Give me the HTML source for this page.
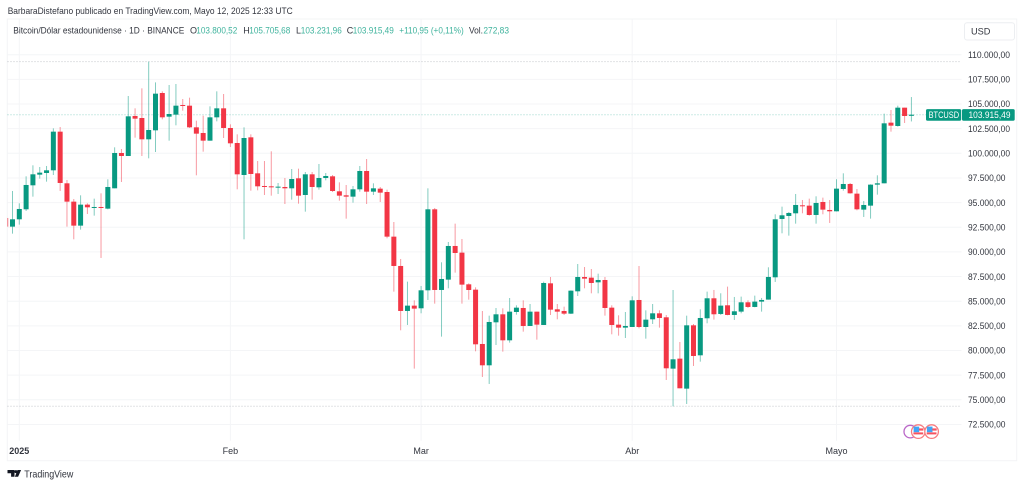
<!DOCTYPE html>
<html lang="es">
<head>
<meta charset="utf-8">
<title>BTCUSD chart</title>
<style>
html,body{margin:0;padding:0;background:#fff;width:1024px;height:486px;overflow:hidden}
svg{display:block;filter:blur(.35px)}
text{font-family:"Liberation Sans",sans-serif;fill:#33363f}
.ax{font-size:9px}
.leg{font-size:9px}
.g{fill:#3fb39d}
</style>
</head>
<body>
<svg id="chart" xmlns="http://www.w3.org/2000/svg" width="1024" height="486" viewBox="0 0 1024 486">
  <defs><clipPath id="plot-clip"><rect x="7.5" y="19" width="954" height="422"/></clipPath></defs>
  <rect x="7.3" y="19" width="1009.4" height="441.7" fill="#fff" stroke="#f3f4f6" stroke-width="1"/>
  <g id="grid"></g>
  <g id="refs"></g>
  <g id="candles" clip-path="url(#plot-clip)"></g>
  <g id="price-axis"></g>
  <g id="time-axis"></g>

  <text x="7.7" y="14.2" font-size="9.5" textLength="285" lengthAdjust="spacingAndGlyphs">BarbaraDistefano publicado en TradingView.com, Mayo 12, 2025 12:33 UTC</text>

  <g>
    <text class="leg" x="13.3" y="33.5" textLength="171" lengthAdjust="spacingAndGlyphs">Bitcoin/Dólar estadounidense · 1D · BINANCE</text>
    <text class="leg" x="190" y="33.5">O</text>
    <text class="leg g" x="196.3" y="33.5" textLength="41" lengthAdjust="spacingAndGlyphs">103.800,52</text>
    <text class="leg" x="243.3" y="33.5">H</text>
    <text class="leg g" x="249.3" y="33.5" textLength="41" lengthAdjust="spacingAndGlyphs">105.705,68</text>
    <text class="leg" x="296" y="33.5">L</text>
    <text class="leg g" x="300.8" y="33.5" textLength="41" lengthAdjust="spacingAndGlyphs">103.231,96</text>
    <text class="leg" x="346.7" y="33.5">C</text>
    <text class="leg g" x="352.8" y="33.5" textLength="41" lengthAdjust="spacingAndGlyphs">103.915,49</text>
    <text class="leg g" x="399.3" y="33.5" textLength="64.4" lengthAdjust="spacingAndGlyphs">+110,95 (+0,11%)</text>
    <text class="leg" x="469" y="33.5" textLength="14" lengthAdjust="spacingAndGlyphs">Vol.</text>
    <text class="leg g" x="483.4" y="33.5" textLength="25.6" lengthAdjust="spacingAndGlyphs">272,83</text>
  </g>

  <g>
    <rect x="964.5" y="22.7" width="50" height="17.3" rx="2.5" fill="#fff" stroke="#eceef1"/>
    <text x="971" y="34.6" font-size="9.2">USD</text>
  </g>

  <g id="price-tag"></g>

  <g>
    <circle cx="910.3" cy="431.6" r="6.3" fill="#fff" stroke="#ba68c8" stroke-width="1.3"/>
    <g>
      <circle cx="918.3" cy="431.6" r="6.8" fill="#fff" stroke="#f77c80" stroke-width="1.3"/>
      <rect x="913.6" y="426.6" width="5.6" height="5.6" fill="#42a5f5"/>
      <rect x="919" y="428.4" width="4.4" height="2.2" fill="#f7525f"/>
      <rect x="913.4" y="432.4" width="9.8" height="2" fill="#f7525f"/>
    </g>
    <g>
      <circle cx="931.6" cy="431.6" r="6.8" fill="#fff" stroke="#f77c80" stroke-width="1.3"/>
      <rect x="926.9" y="426.6" width="5.6" height="5.6" fill="#42a5f5"/>
      <rect x="932.3" y="428.4" width="4.4" height="2.2" fill="#f7525f"/>
      <rect x="926.7" y="432.4" width="9.8" height="2" fill="#f7525f"/>
    </g>
  </g>

  <g>
    <path d="M7.5 470h7v6.8h-3.4v-3.6H7.5z M14.9 476.8l2.6-6.8h3.6l-3 6.8z" fill="#131722"/>
    <circle cx="15.9" cy="471.6" r="1.5" fill="#131722"/>
    <text x="24.3" y="477.6" font-size="10.5" textLength="49" lengthAdjust="spacingAndGlyphs" style="fill:#30333c">TradingView</text>
  </g>
</svg>

<script>
// Daily candles, first entry is 30 Dec 2024 (day index -2)
const firstDayIndex = -2;
const opens = [
93441,92562,93306,94320,96753,97835,98004,98274,102195,96956,
95097,92663,94793,94489,94556,94387,96449,100032,99728,103784,
103581,101418,102330,106116,103716,103919,104899,104831,102634,102060,
101282,103648,104561,102567,101045,97800,101619,97969,96685,96651,
96549,96583,96448,97462,95772,97868,96549,97496,97665,96144,
95738,95603,96347,98206,96110,96414,96076,91547,88573,84010,
84550,84280,86105,94319,86139,87187,90601,89925,86712,86171,
80662,78498,82858,83670,81033,83906,84312,82487,83940,82588,
86813,84177,84008,83737,86002,87455,87388,86914,87151,84346,
82622,82318,82385,85123,82385,83163,83771,83366,78160,79174,
76132,82554,79512,83267,85295,83706,84585,83605,83943,84889,
84416,84957,85160,87424,93340,93644,93914,94725,94691,93745,
95063,94252,94117,96381,96888,95908,94286,94691,96821,96956,
103108,102770,104629,103800.52];
const highs = [
93745,96179,94928,97666,98781,98612,98714,102533,102668,97294,
95367,95739,94928,95401,95942,97362,100606,100437,105812,104561,
106589,109293,107197,106285,106927,107028,105507,105643,103310,103817,
104764,106285,106014,102939,101924,102633,101924,99220,99220,100200,
96989,97496,98408,98442,98104,98104,98915,98003,97800,97056,
96786,96685,98713,99422,96955,96583,96313,93034,89282,86984,
85091,86545,96448,94454,88944,91006,92865,91310,86813,86407,
84008,83534,84312,84278,85326,84582,85089,84717,83940,86982,
87455,84717,84447,86100,88773,88469,88267,87793,87455,84582,
83568,83906,85495,88571,84075,84717,84075,83602,86137,80864,
83534,82689,84177,85971,86140,85802,86478,85430,85464,85092,
85565,85329,88438,93813,94590,94049,95874,95266,95401,95638,
95503,95266,97362,97970,96990,96381,95165,96855,97767,104020,
104392,104831,104629,105705.68];
const lows = [
92393,91852,92765,94151,95604,97429,97125,97801,96179,92562,
91278,92258,93846,93677,89385,94320,96449,97091,99728,101587,
99728,99491,100133,103446,101282,102837,104324,102567,97767,100167,
101282,103243,101553,100640,96347,91277,96211,96245,95772,95704,
95873,94859,95299,94893,94082,95299,96313,97259,96076,95197,
93372,94995,96110,94859,95772,95062,91378,85970,82049,82590,
78162,83773,85125,84753,81407,86308,87897,84753,85157,79918,
77315,76605,80560,79884,80797,83636,81912,82487,81101,82588,
83602,83163,83602,83700,85529,86306,85799,85799,83534,81642,
81506,81270,82385,82250,81202,82689,82318,77011,74341,76166,
74577,78431,78870,82760,83132,83605,83570,83098,83774,84315,
84382,83943,85160,86951,91886,91649,92866,93914,93677,92866,
93813,92934,94100,96212,95908,94218,93542,93373,95807,96956,
102195,102702,103074,103231.96];
const closes = [
92562,93306,94353,96787,97869,98038,98274,102195,96990,95097,
92663,94793,94522,94556,94455,96584,100032,99728,103750,103513,
101418,102364,106048,103648,103986,104831,104798,102634,101992,101282,
103648,104561,102567,101012,97868,101552,97901,96651,96583,96549,
96617,96448,97394,95704,97868,96583,97496,97699,96178,95704,
95603,96347,98206,96110,96448,96009,91547,88573,84010,84550,
84246,86105,94319,86139,87254,90601,89891,86680,86137,80628,
78498,82892,83670,81033,83940,84346,82487,83940,82622,86847,
84143,83940,83737,86069,87455,87286,86847,87151,84312,82588,
82318,82487,85089,82385,83129,83771,83298,78194,79107,76166,
82554,79445,83298,85295,83673,84551,83605,83977,84889,84416,
84957,85126,87458,93306,93711,93948,94759,94658,93745,94962,
94286,94117,96415,96888,95942,94320,94759,96821,96956,103040,
102803,104629,103784,103915.49];

const priceTicks = [110000,107500,105000,102500,100000,97500,95000,92500,90000,87500,85000,82500,80000,77500,75000,72500];
const monthLabels = ["2025","Feb","Mar","Abr","Mayo"];
const monthDayIndex = [0,31,59,90,120];
const lastSymbol = "BTCUSD";

const UP = "#089981", DOWN = "#f23645";
const NS = "http://www.w3.org/2000/svg";
const xOf = d => 19.3 + 6.81 * d;
const yOf = p => 54.7 + (110000 - p) / 2500 * 24.65;
const bodyW = 5;

function fmt(p){
  const parts = p.toFixed(2).split(".");
  return parts[0].replace(/\B(?=(\d{3})+$)/g, ".") + "," + parts[1];
}
function make(tag, attrs, parent, text){
  const el = document.createElementNS(NS, tag);
  for (const k in attrs) el.setAttribute(k, attrs[k]);
  if (text !== undefined) el.textContent = text;
  parent.appendChild(el);
  return el;
}

const grid = document.getElementById("grid");
priceTicks.forEach(p => {
  const el = make("line", {x1:7.5, x2:961.5, y1:yOf(p), y2:yOf(p), stroke:"#f4f5f7", "stroke-width":1}, grid);
  
  
});
monthDayIndex.forEach(d => {
  const el = make("line", {x1:xOf(d), x2:xOf(d), y1:19.5, y2:440.7, stroke:"#f4f5f7", "stroke-width":1}, grid);
  
  
});

const refs = document.getElementById("refs");
const hiLine = make("line", {x1:7.5, x2:961.5, y1:yOf(Math.max(...highs)), y2:yOf(Math.max(...highs)), stroke:"#c4c6cb", "stroke-width":1, "stroke-dasharray":"1 2"}, refs);


const loLine = make("line", {x1:7.5, x2:961.5, y1:yOf(Math.min(...lows)), y2:yOf(Math.min(...lows)), stroke:"#c4c6cb", "stroke-width":1, "stroke-dasharray":"1 2"}, refs);


const lastClose = closes[closes.length - 1];
const lastLine = make("line", {x1:7.5, x2:926, y1:yOf(lastClose), y2:yOf(lastClose), stroke:"#089981", "stroke-opacity":.4, "stroke-width":1, "stroke-dasharray":"1 2"}, refs);



const candles = document.getElementById("candles");
opens.forEach((o, i) => {
  const c = closes[i], color = c >= o ? UP : DOWN, cx = xOf(firstDayIndex + i);
  const wick = make("line", {x1:cx, x2:cx, y1:yOf(highs[i]), y2:yOf(lows[i]), stroke:color, "stroke-opacity":.5, "stroke-width":1}, candles);
  
  
  const top = yOf(Math.max(o, c)), bot = yOf(Math.min(o, c));
  const body = make("rect", {x:cx - bodyW / 2, y:top, width:bodyW, height:Math.max(bot - top, 1), fill:color}, candles);
  
  
});

const priceAxis = document.getElementById("price-axis");
priceTicks.forEach(p => {
  const t = make("text", {class:"ax", x:968, y:yOf(p) + 3.2, textLength:p >= 100000 ? 42 : 37.5, lengthAdjust:"spacingAndGlyphs"}, priceAxis, fmt(p));
  
  
});

const timeAxis = document.getElementById("time-axis");
monthLabels.forEach((m, i) => {
  const t = make("text", {class:"ax", x:xOf(monthDayIndex[i]), y:454, "text-anchor":"middle", "font-weight":i === 0 ? "bold" : "normal"}, timeAxis, m);
  
  
});

const tag = document.getElementById("price-tag");
const tagY = yOf(lastClose);
const tagA = make("rect", {x:926, y:tagY - 5.6, width:35.2, height:11.6, rx:1.5, fill:UP}, tag);


const tagB = make("rect", {x:962, y:tagY - 5.6, width:52.7, height:11.6, rx:1.5, fill:UP}, tag);


const tagT1 = make("text", {x:928.6, y:tagY + 3.2, "font-size":9, textLength:30.5, lengthAdjust:"spacingAndGlyphs", style:"fill:#fff"}, tag, lastSymbol);


const tagT2 = make("text", {x:968.5, y:tagY + 3.2, "font-size":9, textLength:42, lengthAdjust:"spacingAndGlyphs", style:"fill:#fff"}, tag, fmt(lastClose));


</script>
</body>
</html>
